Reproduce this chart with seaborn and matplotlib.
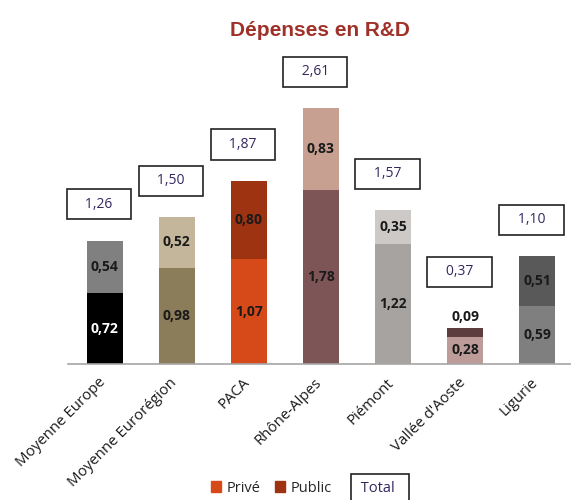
import matplotlib
matplotlib.use("Agg")
import matplotlib.pyplot as plt
import matplotlib.transforms as mtransforms
from matplotlib.patches import Patch
import seaborn as sns

# Data
regions = ["Moyenne Europe", "Moyenne Eurorégion", "PACA", "Rhône-Alpes",
           "Piémont", "Vallée d'Aoste", "Ligurie"]
prive = [0.72, 0.98, 1.07, 1.78, 1.22, 0.28, 0.59]
public = [0.54, 0.52, 0.80, 0.83, 0.35, 0.09, 0.51]
total = [1.26, 1.50, 1.87, 2.61, 1.57, 0.37, 1.10]

prive_colors = ["#000000", "#8B7C5A", "#D64A19", "#7E5556",
                "#A7A3A0", "#BC9B99", "#7F7F7F"]
public_colors = ["#808080", "#C3B69A", "#9E3311", "#C8A092",
                 "#CDC9C7", "#5E3D3E", "#595959"]

sns.set_theme(style="white")
plt.rcParams["font.family"] = ["Open Sans", "DejaVu Sans"]

fig = plt.figure(figsize=(5.71, 5.0), dpi=100)
ax = fig.add_axes([0.119, 0.272, 0.881, 0.588])

# stacked bars: totals drawn first, private part on top of them
sns.barplot(x=regions, y=total, hue=regions, palette=public_colors,
            legend=False, width=0.5, saturation=1, linewidth=0, ax=ax)
sns.barplot(x=regions, y=prive, hue=regions, palette=prive_colors,
            legend=False, width=0.5, saturation=1, linewidth=0, ax=ax)

ax.set_xlim(-0.51, 6.47)
ax.set_ylim(0, 3.0)
ax.set_yticks([])
ax.set_xlabel("")
ax.set_ylabel("")
for side in ["left", "top", "right"]:
    ax.spines[side].set_visible(False)
ax.spines["bottom"].set_color("#A6A6A6")
ax.spines["bottom"].set_linewidth(1.2)

ax.set_xticks(range(len(regions)))
ax.set_xticklabels(regions, rotation=45, ha="right", rotation_mode="anchor",
                   fontsize=10.8, color="#1a1a1a")
ax.tick_params(axis="x", length=0, pad=8)
shift = mtransforms.ScaledTranslation(-5 / 72, 0, fig.dpi_scale_trans)
for lbl in ax.get_xticklabels():
    lbl.set_transform(lbl.get_transform() + shift)

def fmt(v):
    return f"{v:.2f}".replace(".", ",")

for i, (p, q, t) in enumerate(zip(prive, public, total)):
    pcol = "white" if prive_colors[i] == "#000000" else "#1a1a1a"
    ax.text(i, p / 2, fmt(p), ha="center", va="center", fontsize=10,
            fontweight="bold", color=pcol)
    offset = 0.37
    if q < 0.15:
        ax.text(i, t + 0.11, fmt(q), ha="center", va="center", fontsize=10,
                fontweight="bold", color="#1a1a1a")
        offset = 0.57
    else:
        ax.text(i, p + q / 2, fmt(q), ha="center", va="center", fontsize=10,
                fontweight="bold", color="#1a1a1a")
    ax.text(i - 0.08, t + offset, "   " + fmt(t) + "   ", ha="center",
            va="center", fontsize=10, color="#35265F", clip_on=False,
            bbox=dict(boxstyle="square,pad=0.55", fc="white", ec="#222222",
                      lw=1.2))

fig.suptitle("Dépenses en R&D", x=0.56, y=0.958, fontsize=15,
             fontweight="bold", color="#A0312A", family="Liberation Sans")

handles = [Patch(color="#D64A19", label="Privé"),
           Patch(color="#9E3311", label="Public")]
fig.legend(handles=handles, loc="center", bbox_to_anchor=(0.475, 0.024),
           ncol=2, frameon=False, fontsize=10.5, handlelength=0.7,
           handleheight=0.7, handletextpad=0.35, columnspacing=1.0)
fig.text(0.665, 0.024, " Total  ", ha="center", va="center", fontsize=10.5,
         color="#35265F",
         bbox=dict(boxstyle="square,pad=0.45", fc="white", ec="#222222", lw=1.2))

fig.savefig("out.png", dpi=100)
plt.close(fig)
